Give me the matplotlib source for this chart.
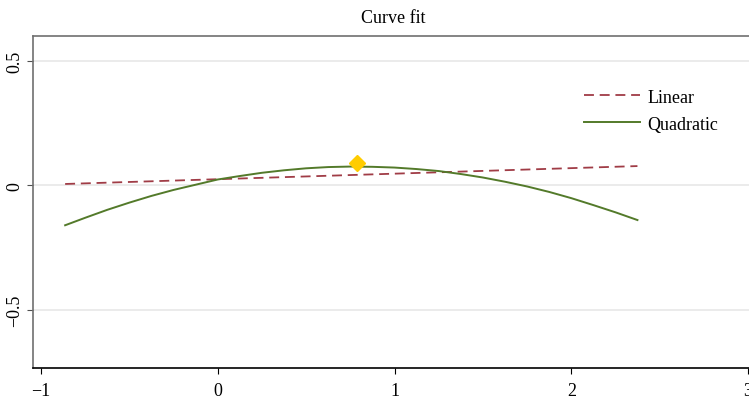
import matplotlib
matplotlib.use('Agg')
import matplotlib.pyplot as plt

# values
x_lin = [-0.863, 2.374]
y_lin = [0.005, 0.077]

x_quad = [-0.863, -0.75, -0.625, -0.5, -0.375, -0.25, -0.125, 0.0, 0.125, 0.25, 0.375, 0.5,
          0.625, 0.75, 0.875, 1.0, 1.125, 1.25, 1.375, 1.5, 1.625, 1.75, 1.875, 2.0,
          2.125, 2.25, 2.374]
y_quad = [-0.161, -0.131, -0.099, -0.070, -0.043, -0.019, 0.002, 0.023, 0.037, 0.050, 0.060, 0.068,
          0.073, 0.075, 0.074, 0.071, 0.065, 0.057, 0.045, 0.031, 0.014, -0.005, -0.027, -0.052,
          -0.080, -0.109, -0.140]

peak_x = [0.785]
peak_y = [0.088]

xticks = [-1, 0, 1, 2, 3]
yticks = [-0.5, 0, 0.5]
ytick_labels = ['\u22120.5', '0', '0.5']
xtick_labels = ['\u22121', '0', '1', '2', '3']

plt.rcParams['font.family'] = ['Liberation Serif', 'DejaVu Serif']

fig = plt.figure(figsize=(7.49, 4.02), dpi=100)
ax = fig.add_axes([0.044, 0.082, 0.956, 0.826])

# grid lines
ax.set_yticks(yticks)
ax.set_yticklabels(ytick_labels, rotation=90, va='center', fontsize=13)
ax.set_xticks(xticks)
ax.set_xticklabels(xtick_labels, fontsize=13)
ax.grid(axis='y', color='#e8e8e8', linewidth=1.2)
ax.set_axisbelow(True)

ax.plot(x_lin, y_lin, color='#a03c46', linewidth=1.3, dashes=(5.5, 3.2), label='Linear')
ax.plot(x_quad, y_quad, color='#537a2a', linewidth=1.4, label='Quadratic')
ax.plot(peak_x, peak_y, marker='D', color='#ffcc00', markersize=8, linestyle='none', zorder=5)

ax.set_xlim(-1.045, 3.005)
ax.set_ylim(-0.735, 0.6)

ax.spines['right'].set_visible(False)
ax.spines['left'].set_color('#707070')
ax.spines['top'].set_color('#707070')
ax.spines['bottom'].set_color('black')
for s in ['left', 'top', 'bottom']:
    ax.spines[s].set_linewidth(1.2)
ax.tick_params(axis='y', colors='#505050', labelcolor='black', length=4, pad=3)
ax.tick_params(axis='x', length=4, pad=6)

ax.set_title('Curve fit', fontsize=13, pad=10, x=0.503)

ax.legend(loc='upper left', bbox_to_anchor=(0.747, 0.89), frameon=False, fontsize=13,
          handlelength=3.1, labelspacing=0.55, handletextpad=0.4)

fig.savefig('out.png', dpi=100)
